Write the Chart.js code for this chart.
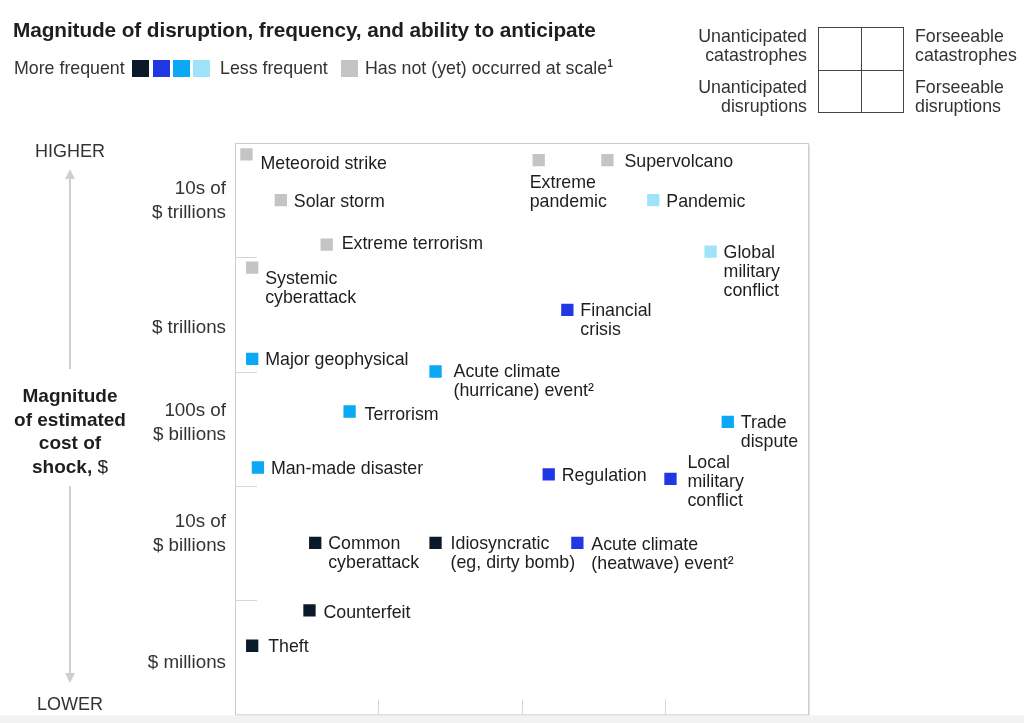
<!DOCTYPE html>
<html>
<head>
<meta charset="utf-8">
<script src="https://cdn.jsdelivr.net/npm/chart.js@4/dist/chart.umd.min.js"></script>
<style>
    body { margin: 0; background: #fff; font-family: 'Liberation Sans', Arial, sans-serif; color: #1e1e1e; }
    #wrap { position: relative; width: 1024px; height: 723px; overflow: hidden; }
    #wrap canvas { position: absolute; left: 0; top: 0; }
    .abs { position: absolute; white-space: nowrap; }
    .title { left: 13px; top: 18px; font-size: 20.8px; font-weight: bold; line-height: 24px; letter-spacing: -0.1px; }
    .leg { top: 58px; font-size: 17.8px; line-height: 20px; color: #333; }
    .leg sup { font-size: 10px; font-weight: bold; line-height: 0; vertical-align: 7px; }
    .sw { position: absolute; top: 60px; width: 17px; height: 17px; }
    .quad { font-size: 17.8px; line-height: 19px; color: #333; }
    .quad.r { text-align: right; }
    .box { position: absolute; left: 818px; top: 27px; width: 84px; height: 84px; border: 1.5px solid #444; }
    .box:before { content: ''; position: absolute; left: 42px; top: 0; bottom: 0; border-left: 1.5px solid #444; }
    .box:after { content: ''; position: absolute; top: 42px; left: 0; right: 0; border-top: 1.5px solid #444; }
    .axisword { font-size: 18px; color: #333; width: 120px; text-align: center; left: 10px; }
    .axistitle { left: 0; width: 140px; top: 384px; text-align: center; font-size: 19px; font-weight: bold; line-height: 23.5px; }
    .axistitle span { font-weight: normal; }
</style>
</head>
<body>
<div id="wrap">
    <canvas id="riskChart" width="1024" height="723"></canvas>

    <div class="abs title">Magnitude of disruption, frequency, and ability to anticipate</div>
    <div class="abs leg" style="left:14px">More frequent</div>
    <div class="sw" style="left:132px;background:#0b1a2b"></div>
    <div class="sw" style="left:153px;background:#2038e4"></div>
    <div class="sw" style="left:173px;background:#0aa8f5"></div>
    <div class="sw" style="left:193px;background:#9ee3fa"></div>
    <div class="abs leg" style="left:220px">Less frequent</div>
    <div class="sw" style="left:341px;background:#c3c4c6"></div>
    <div class="abs leg" style="left:365px">Has not (yet) occurred at scale<sup>1</sup></div>

    <div class="abs quad r" style="right:217px;top:27px">Unanticipated<br>catastrophes</div>
    <div class="abs quad r" style="right:217px;top:78px">Unanticipated<br>disruptions</div>
    <div class="box"></div>
    <div class="abs quad" style="left:915px;top:27px">Forseeable<br>catastrophes</div>
    <div class="abs quad" style="left:915px;top:78px">Forseeable<br>disruptions</div>

    <div class="abs axisword" style="top:141px">HIGHER</div>
    <div class="abs axistitle">Magnitude<br>of estimated<br>cost of<br>shock, <span>$</span></div>
    <div class="abs axisword" style="top:694px">LOWER</div>
</div>

<script>
// Risks, one entry per marker
const riskLabels = [
    ['Meteoroid strike'],
    ['Solar storm'],
    ['Extreme terrorism'],
    ['Systemic', 'cyberattack'],
    ['Extreme', 'pandemic'],
    ['Supervolcano'],
    ['Pandemic'],
    ['Global', 'military', 'conflict'],
    ['Financial', 'crisis'],
    ['Major geophysical'],
    ['Acute climate', '(hurricane) event\u00B2'],
    ['Terrorism'],
    ['Trade', 'dispute'],
    ['Man-made disaster'],
    ['Regulation'],
    ['Local', 'military', 'conflict'],
    ['Common', 'cyberattack'],
    ['Idiosyncratic', '(eg, dirty bomb)'],
    ['Acute climate', '(heatwave) event\u00B2'],
    ['Counterfeit'],
    ['Theft']
];
// ability to anticipate (0 = unanticipated .. 4 = foreseeable)
const anticipation = [0.08, 0.32, 0.64, 0.12, 2.12, 2.60, 2.92, 3.32, 2.32, 0.12, 1.40, 0.80, 3.44, 0.16, 2.19, 3.04, 0.56, 1.40, 2.39, 0.52, 0.12];
// magnitude band (0 = $ millions .. 5 = 10s of $ trillions)
const magnitude = [4.90, 4.50, 4.11, 3.91, 4.85, 4.85, 4.50, 4.05, 3.54, 3.11, 3.00, 2.65, 2.56, 2.16, 2.10, 2.06, 1.50, 1.50, 1.50, 0.91, 0.60];
// frequency: 0 most frequent .. 3 least frequent, 4 = not (yet) occurred at scale
const frequency = [4, 4, 4, 4, 4, 4, 3, 3, 1, 2, 2, 2, 2, 2, 1, 1, 0, 0, 1, 0, 0];

const bandLabels = [['$ millions'], ['10s of', '$ billions'], ['100s of', '$ billions'], ['$ trillions'], ['10s of', '$ trillions']];
const bandLabelValues = [0.47, 1.60, 2.57, 3.40, 4.51];

const freqColors = ['#0b1a2b', '#2038e4', '#0aa8f5', '#9ee3fa', '#c3c4c6'];

// label placement next to marker (px from marker centre), default right of it
const labelShift = { 0: [14, 8], 2: [15, -2], 3: [13, 10], 4: [-9, 21], 5: [17, 0], 10: [18, -1], 11: [15, 2], 15: [17, -17], 16: [13, 0], 17: [15, 0], 18: [14, 1], 19: [14, 1], 20: [16, 0] };

const FONT = "17.8px 'Liberation Sans', Arial, sans-serif";
const BAND_FONT = "18.8px 'Liberation Sans', Arial, sans-serif";

const decorPlugin = {
    id: 'decor',
    beforeDatasetsDraw(chart) {
        const ctx = chart.ctx;
        const a = chart.chartArea;
        const xs = chart.scales.x, ys = chart.scales.y;
        ctx.save();
        // bottom strip
        ctx.fillStyle = '#f2f2f2';
        ctx.fillRect(0, a.bottom + 1, chart.width, chart.height - a.bottom);
        // frame
        ctx.strokeStyle = '#cdcdcd';
        ctx.lineWidth = 1;
        ctx.strokeRect(a.left + 0.5, a.top + 0.5, a.right - a.left, a.bottom - a.top);
        ctx.strokeStyle = '#e4e4e4';
        ctx.beginPath();
        ctx.moveTo(a.right + 1.5, a.top + 2); ctx.lineTo(a.right + 1.5, a.bottom + 1.5);
        ctx.stroke();
        // inner ticks
        ctx.strokeStyle = '#d6d6d6';
        ctx.beginPath();
        for (let v = 1; v <= 4; v++) {
            const y = Math.round(ys.getPixelForValue(v)) + 0.5;
            ctx.moveTo(a.left, y); ctx.lineTo(a.left + 22, y);
        }
        for (let v = 1; v <= 3; v++) {
            const x = Math.round(xs.getPixelForValue(v)) + 0.5;
            ctx.moveTo(x, a.bottom - 15); ctx.lineTo(x, a.bottom);
        }
        ctx.stroke();
        // band labels
        ctx.font = BAND_FONT;
        ctx.fillStyle = '#333';
        ctx.textAlign = 'right';
        ctx.textBaseline = 'middle';
        bandLabels.forEach((lines, i) => {
            const cy = ys.getPixelForValue(bandLabelValues[i]) + 2;
            const top = cy - (lines.length - 1) * 12;
            lines.forEach((t, j) => ctx.fillText(t, 226, top + j * 24));
        });
        // vertical arrows
        ctx.strokeStyle = '#cfcfcf';
        ctx.fillStyle = '#cfcfcf';
        ctx.lineWidth = 2;
        ctx.beginPath();
        ctx.moveTo(70, 176); ctx.lineTo(70, 369);
        ctx.moveTo(70, 486); ctx.lineTo(70, 676);
        ctx.stroke();
        ctx.beginPath();
        ctx.moveTo(70, 169); ctx.lineTo(65, 179); ctx.lineTo(75, 179); ctx.closePath();
        ctx.moveTo(70, 683); ctx.lineTo(65, 673); ctx.lineTo(75, 673); ctx.closePath();
        ctx.fill();
        ctx.restore();
    },
    afterDatasetsDraw(chart) {
        const ctx = chart.ctx;
        const meta = chart.getDatasetMeta(0);
        ctx.save();
        ctx.font = FONT;
        ctx.fillStyle = '#1e1e1e';
        ctx.textAlign = 'left';
        ctx.textBaseline = 'middle';
        meta.data.forEach((pt, i) => {
            const s = labelShift[i] || [13, 0];
            riskLabels[i].forEach((t, j) => ctx.fillText(t, pt.x + s[0], pt.y + s[1] + 1.5 + j * 19));
        });
        ctx.restore();
    }
};

new Chart(document.getElementById('riskChart'), {
    type: 'scatter',
    data: {
        datasets: [{
            data: anticipation.map((x, i) => ({ x: x, y: magnitude[i] })),
            backgroundColor: frequency.map(f => freqColors[f]),
            borderWidth: 0,
            pointStyle: 'rect',
            pointRadius: 8.7,
            pointHoverRadius: 8.7
        }]
    },
    options: {
        responsive: false,
        animation: false,
        layout: { padding: { left: 235, right: 216, top: 143, bottom: 7 } },
        plugins: { legend: { display: false }, tooltip: { enabled: false } },
        scales: {
            x: { display: false, min: 0, max: 4 },
            y: { display: false, min: 0, max: 5 }
        },
        events: []
    },
    plugins: [decorPlugin]
});
</script>
</body>
</html>
